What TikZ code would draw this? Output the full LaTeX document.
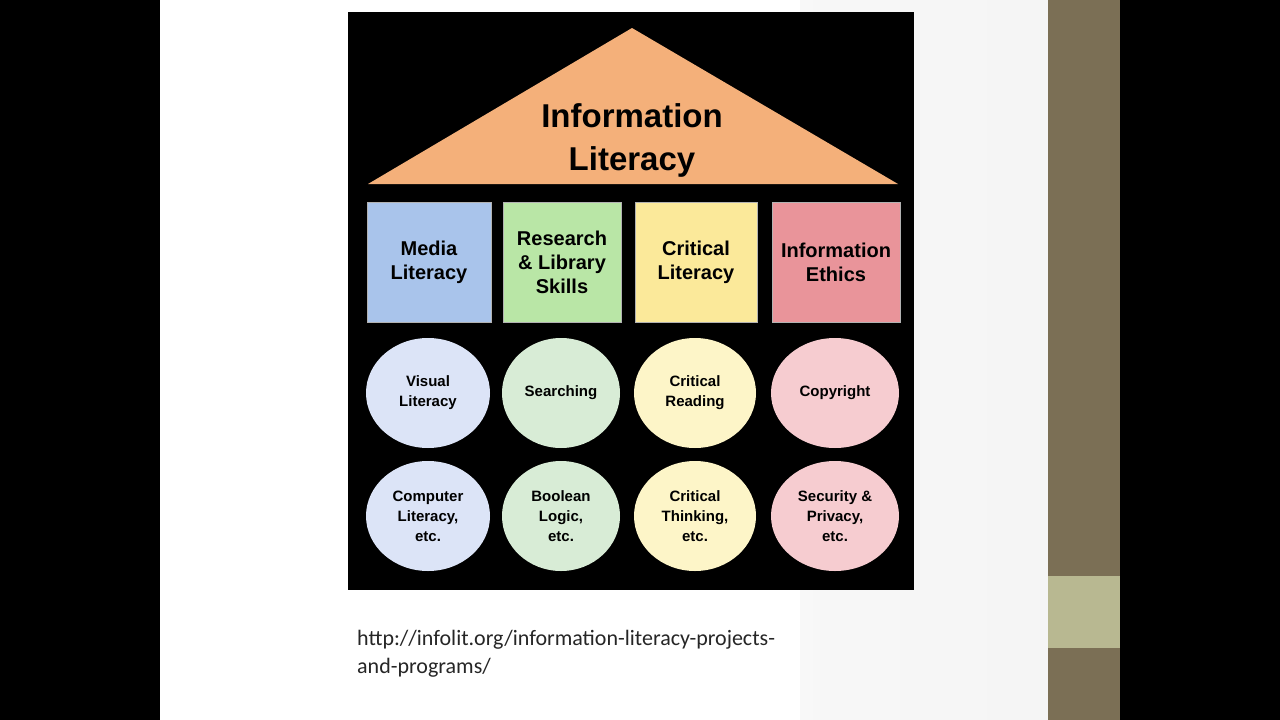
\documentclass[tikz,border=0pt]{standalone}
\usepackage{fontspec}
\setmainfont{Liberation Sans}
\newfontfamily\urlfont{Carlito}
\usetikzlibrary{shapes.geometric}
\definecolor{tri}{HTML}{F4B07A}
\definecolor{cb}{HTML}{A9C4EB}\definecolor{cg}{HTML}{B9E6A6}
\definecolor{cy}{HTML}{FBE99A}\definecolor{cp}{HTML}{E9949A}
\definecolor{lb}{HTML}{DCE4F7}\definecolor{lg}{HTML}{D8ECD6}
\definecolor{ly}{HTML}{FDF5C8}\definecolor{lp}{HTML}{F6CCD0}
\definecolor{olive}{HTML}{7B6F55}\definecolor{lolive}{HTML}{B8B891}
\tikzset{
 pillar/.style={draw=gray!60,line width=0.8pt,minimum height=120pt,align=center,font=\fontsize{20}{24}\selectfont\bfseries},
 oval/.style={ellipse,minimum width=124pt,minimum height=110pt,align=center,inner sep=0pt,font=\fontsize{15}{20}\selectfont\bfseries}
}
\begin{document}
\begin{tikzpicture}[x=1pt,y=-1pt]
\useasboundingbox (0,0) rectangle (1280,720);
\fill[black] (0,0) rectangle (1280,720);
\shade[left color=white,right color=gray!8] (160,0) rectangle (1048,720);
\fill[white] (160,0) rectangle (800,720);
\fill[olive] (1048,0) rectangle (1120,720);
\fill[lolive] (1048,576) rectangle (1120,648);
\fill[black] (348,12) rectangle (914,590);
\fill[tri] (632,28) -- (898,184) -- (368,184) -- cycle;
\node[align=center,font=\fontsize{33}{43}\selectfont\bfseries] (title) at (632,140) {Information\\Literacy};
\node[pillar,fill=cb,minimum width=124pt] (p1) at (429,262) {Media\\Literacy};
\node[pillar,fill=cg,minimum width=118pt] (p2) at (562,262) {Research\\\& Library\\Skills};
\node[pillar,fill=cy,minimum width=122pt] (p3) at (696,262) {Critical\\Literacy};
\node[pillar,fill=cp,minimum width=128pt] (p4) at (836,262) {Information\\Ethics};
\node[oval,fill=lb] (a1) at (428,393) {Visual\\Literacy};
\node[oval,fill=lg,minimum width=118pt] (a2) at (561,393) {Searching};
\node[oval,fill=ly,minimum width=122pt] (a3) at (695,393) {Critical\\Reading};
\node[oval,fill=lp,minimum width=128pt] (a4) at (835,393) {Copyright};
\node[oval,fill=lb] (b1) at (428,516) {Computer\\Literacy,\\etc.};
\node[oval,fill=lg,minimum width=118pt] (b2) at (561,516) {Boolean\\Logic,\\etc.};
\node[oval,fill=ly,minimum width=122pt] (b3) at (695,516) {Critical\\Thinking,\\etc.};
\node[oval,fill=lp,minimum width=128pt] (b4) at (835,516) {Security \&\\Privacy,\\etc.};
\node[anchor=north west,align=left,inner sep=0pt,text=black!85,font=\urlfont\fontsize{22}{28}\selectfont] (url) at (357,630) {http://infolit.org/information-literacy-projects-\\and-programs/};
\end{tikzpicture}
\end{document}
